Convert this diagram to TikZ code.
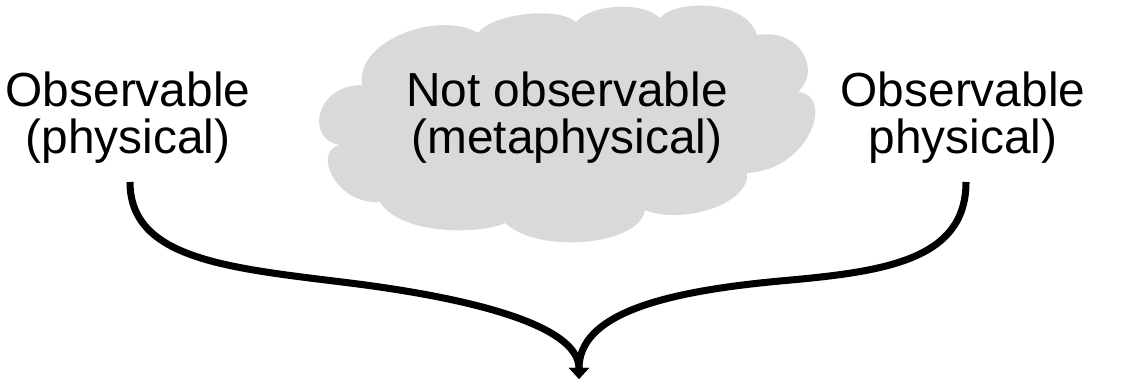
\documentclass[tikz,border=0pt]{standalone}
\usepackage{fontspec}
\setmainfont{Liberation Sans}
\usetikzlibrary{arrows.meta}
\definecolor{cloudgrey}{HTML}{D9D9D9}
\begin{document}
\begin{tikzpicture}[x=0.025cm,y=-0.025cm,
  lbl/.style={align=center,anchor=base,inner sep=0pt,font=\fontsize{34}{33.4}\selectfont},
  conn/.style={line width=5pt,-{Triangle[width=14pt,length=8pt]}},
  puff/.style={fill=cloudgrey,draw=none}]
\useasboundingbox (0,0) rectangle (1128,382);
% cloud
\fill[puff] (362,85)
  .. controls (355,40) and (440,10) .. (478,33)
  .. controls (490,15) and (555,5) .. (576,22)
  .. controls (590,5) and (640,0) .. (660,18)
  .. controls (675,0) and (745,-2) .. (757,35)
  .. controls (800,28) and (822,70) .. (798,92)
  .. controls (835,95) and (810,170) .. (747,173)
  .. controls (750,205) and (680,225) .. (645,210)
  .. controls (640,245) and (540,255) .. (505,223)
  .. controls (480,235) and (400,235) .. (380,202)
  .. controls (335,205) and (312,150) .. (340,145)
  .. controls (305,140) and (315,85) .. (362,85) -- cycle;
\node[lbl] (L) at (128,153) {Observable\\(physical)};
\node[lbl] (M) at (567,153) {Not observable\\(metaphysical)};
\node[lbl] (R) at (963,153) {Observable\\physical)};
\coordinate (ls) at (130,182);
\coordinate (rs) at (966,182);
\coordinate (tip) at (579,379);
\draw[conn] (ls) .. controls (130,260) and (230,268) .. (350,283)
  .. controls (470,298) and (579,325) .. (tip);
\draw[conn] (rs) .. controls (966,262) and (880,272) .. (780,281)
  .. controls (660,292) and (579,315) .. (tip);
\end{tikzpicture}
\end{document}
